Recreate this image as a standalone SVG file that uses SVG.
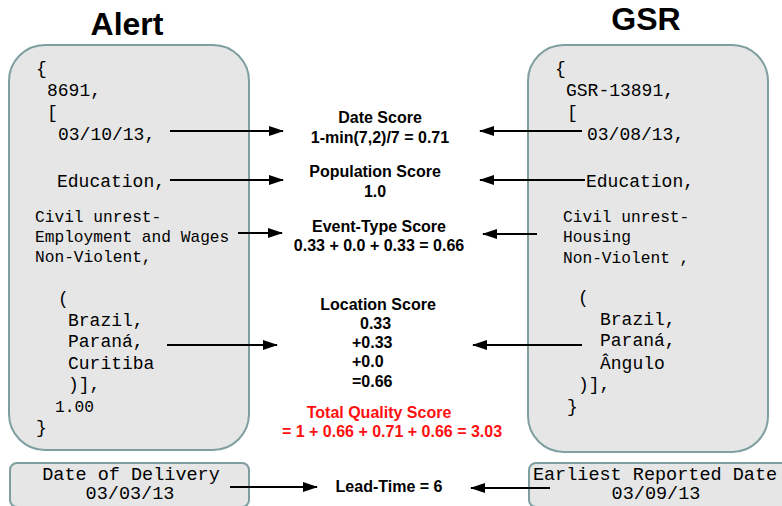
<svg xmlns="http://www.w3.org/2000/svg" width="782" height="506" viewBox="0 0 782 506">
<defs>
<style>
.box{fill:#e6e6e6;stroke:#7f9ea0;stroke-width:2}
.title{font-family:"Liberation Sans",Arial,sans-serif;font-weight:bold;font-size:32px;fill:#000;text-anchor:middle}
.m{font-family:"Liberation Mono","Courier New",monospace;font-size:18px;fill:#000}
.s{font-family:"Liberation Mono","Courier New",monospace;font-size:16.2px;fill:#000}
.b{font-family:"Liberation Mono","Courier New",monospace;font-size:18.5px;fill:#000;text-anchor:middle}
.c{font-family:"Liberation Sans",Arial,sans-serif;font-weight:bold;font-size:16px;fill:#000;text-anchor:middle}
.l{font-family:"Liberation Sans",Arial,sans-serif;font-weight:bold;font-size:16px;fill:#000}
.r{fill:#ff1010}
.arr{stroke:#000;stroke-width:2;fill:none;marker-end:url(#ah)}
</style>
<marker id="ah" markerUnits="userSpaceOnUse" markerWidth="15" markerHeight="11" refX="14" refY="5" orient="auto">
<path d="M0,0 L15,5 L0,10 z" fill="#000"/>
</marker>
</defs>
<rect width="782" height="506" fill="#fff"/>
<g id="alert">
<text class="title" x="127" y="35">Alert</text>
<rect class="box" x="9" y="45" width="240" height="405" rx="36" ry="36"/>
<text class="m" x="36" y="74">{</text>
<text class="m" x="47" y="96">8691,</text>
<text class="m" x="47" y="118">[</text>
<text class="m" x="58" y="140">03/10/13,</text>
<text class="m" x="57" y="187">Education,</text>
<text class="s" x="35" y="222">Civil unrest-</text>
<text class="s" x="35" y="242">Employment and Wages</text>
<text class="s" x="35" y="262">Non-Violent,</text>
<text class="m" x="58" y="304">(</text>
<text class="m" x="68" y="326">Brazil,</text>
<text class="m" x="68" y="347">Paraná,</text>
<text class="m" x="68" y="369">Curitiba</text>
<text class="m" x="68" y="390">)],</text>
<text class="s" x="55" y="412">1.00</text>
<text class="m" x="36" y="433">}</text>
</g>
<g id="gsr">
<text class="title" x="646" y="30">GSR</text>
<rect class="box" x="528" y="45" width="240" height="407" rx="36" ry="36"/>
<text class="m" x="555" y="74">{</text>
<text class="m" x="566" y="96">GSR-13891,</text>
<text class="m" x="567" y="118">[</text>
<text class="m" x="587" y="140">03/08/13,</text>
<text class="m" x="586" y="187">Education,</text>
<text class="s" x="563" y="222">Civil unrest-</text>
<text class="s" x="563" y="242">Housing</text>
<text class="s" x="563" y="263">Non-Violent ,</text>
<text class="m" x="578" y="303">(</text>
<text class="m" x="600" y="325">Brazil,</text>
<text class="m" x="600" y="346">Paraná,</text>
<text class="m" x="600" y="369">Ângulo</text>
<text class="m" x="578" y="390">)],</text>
<text class="m" x="567" y="412">}</text>
</g>
<g id="delivery">
<rect class="box" x="10" y="463" width="239" height="44" rx="7" ry="7"/>
<text class="b" x="131" y="480">Date of Delivery</text>
<text class="b" x="130" y="499">03/03/13</text>
</g>
<g id="earliest">
<rect class="box" x="529" y="463" width="262" height="44" rx="7" ry="7"/>
<text class="b" x="655" y="480">Earliest Reported Date</text>
<text class="b" x="656" y="499">03/09/13</text>
</g>
<g id="date-score">
<text class="c" x="380" y="123">Date Score</text>
<text class="c" x="380" y="143">1-min(7,2)/7 = 0.71</text>
</g>
<g id="population-score">
<text class="c" x="375" y="177">Population Score</text>
<text class="c" x="375" y="197">1.0</text>
</g>
<g id="event-score">
<text class="c" x="379" y="232">Event-Type Score</text>
<text class="c" x="379" y="251">0.33 + 0.0 + 0.33 = 0.66</text>
</g>
<g id="location-score">
<text class="c" x="378" y="310">Location Score</text>
<text class="l" x="360" y="329">0.33</text>
<text class="l" x="352" y="348">+0.33</text>
<text class="l" x="352" y="367">+0.0</text>
<text class="l" x="352" y="387">=0.66</text>
</g>
<g id="total-score">
<text class="c r" x="379" y="418">Total Quality Score</text>
<text class="c r" x="392" y="437">= 1 + 0.66 + 0.71 + 0.66 = 3.03</text>
</g>
<g id="lead-time">
<text class="c" x="389" y="492">Lead-Time = 6</text>
</g>
<g id="connectors">
<line class="arr" x1="170" y1="131" x2="283" y2="131"/>
<line class="arr" x1="170" y1="180" x2="283" y2="180"/>
<line class="arr" x1="238" y1="233" x2="282" y2="233"/>
<line class="arr" x1="167" y1="345" x2="277" y2="345"/>
<line class="arr" x1="230" y1="487" x2="317" y2="487"/>
<line class="arr" x1="582" y1="131" x2="480" y2="131"/>
<line class="arr" x1="585" y1="180" x2="480" y2="180"/>
<line class="arr" x1="537" y1="234" x2="483" y2="234"/>
<line class="arr" x1="582" y1="345" x2="473" y2="345"/>
<line class="arr" x1="550" y1="488" x2="471" y2="488"/>
</g>
</svg>
